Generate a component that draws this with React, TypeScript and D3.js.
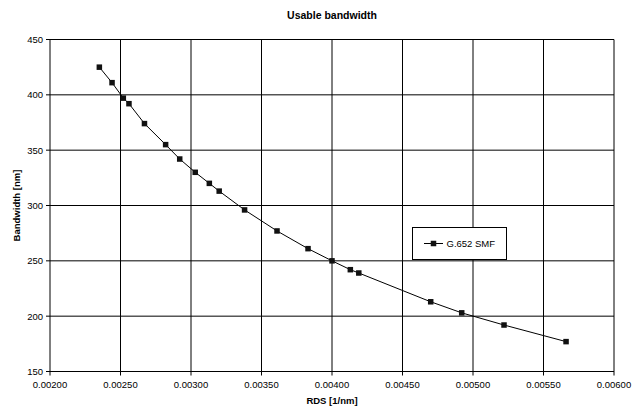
import React from "react";
import * as d3 from "d3";

const rds = [0.00235, 0.00244, 0.00252, 0.00256, 0.00267, 0.00282, 0.00292, 0.00303, 0.00313, 0.0032, 0.00338, 0.00361, 0.00383, 0.004, 0.00413, 0.00419, 0.0047, 0.00492, 0.00522, 0.00566];
const bandwidth = [425, 411, 397, 392, 374, 355, 342, 330, 320, 313, 296, 277, 261, 250, 242, 239, 213, 203, 192, 177];
const xTicks = [0.002, 0.0025, 0.003, 0.0035, 0.004, 0.0045, 0.005, 0.0055, 0.006];
const yTicks = [150, 200, 250, 300, 350, 400, 450];
const seriesName = "G.652 SMF";
const title = "Usable bandwidth";
const xTitle = "RDS [1/nm]";
const yTitle = "Bandwidth [nm]";

const W = 642, H = 409;
const L = 50, R = 614, T = 39.5, B = 371.5;
const FONT = "'Liberation Sans', Arial, sans-serif";

export default function App() {
  const x = d3.scaleLinear().domain([0.002, 0.006]).range([L, R]);
  const y = d3.scaleLinear().domain([150, 450]).range([B, T]);
  const pts = rds.map((r, i) => [r, bandwidth[i]] as [number, number]);
  const line = d3.line<[number, number]>().x(d => x(d[0])).y(d => y(d[1]));
  const fmt = d3.format(".5f");
  const ms = 5.5;
  return (
    <svg width={W} height={H} style={{ position: "absolute", left: 0, top: 0, background: "#fff" }} fontFamily={FONT}>
      <rect x={0} y={0} width={W} height={H} fill="#fff" />
      <text x={(L + R) / 2} y={19} textAnchor="middle" fontSize={10.5} fontWeight="bold">{title}</text>
      {xTicks.map(t => (
        <g key={"x" + t}>
          <line x1={x(t)} x2={x(t)} y1={T} y2={B + 4} stroke="#000" strokeWidth={1} />
          <text x={x(t)} y={387.5} textAnchor="middle" fontSize={9.5}>{fmt(t)}</text>
        </g>
      ))}
      {yTicks.map(t => (
        <g key={"y" + t}>
          <line x1={L - 4} x2={R} y1={y(t)} y2={y(t)} stroke="#000" strokeWidth={1} />
          <text x={43} y={y(t) + 3.4} textAnchor="end" fontSize={9.5}>{t}</text>
        </g>
      ))}
      <text x={(L + R) / 2} y={404} textAnchor="middle" fontSize={9.5} fontWeight="bold">{xTitle}</text>
      <text transform={`translate(20,${(T + B) / 2}) rotate(-90)`} textAnchor="middle" fontSize={9.5} fontWeight="bold">{yTitle}</text>
      <path d={line(pts) || ""} fill="none" stroke="#000" strokeWidth={1} />
      {pts.map((p, i) => (
        <rect key={i} x={x(p[0]) - ms / 2} y={y(p[1]) - ms / 2} width={ms} height={ms} fill="#111" />
      ))}
      <g>
        <rect x={412.5} y={227.5} width={94} height={32} fill="#fff" stroke="#000" strokeWidth={1} />
        <line x1={424} x2={443} y1={243.5} y2={243.5} stroke="#000" strokeWidth={1} />
        <rect x={433.5 - ms / 2} y={243.5 - ms / 2} width={ms} height={ms} fill="#111" />
        <text x={446.5} y={247} fontSize={9.5}>{seriesName}</text>
      </g>
    </svg>
  );
}
